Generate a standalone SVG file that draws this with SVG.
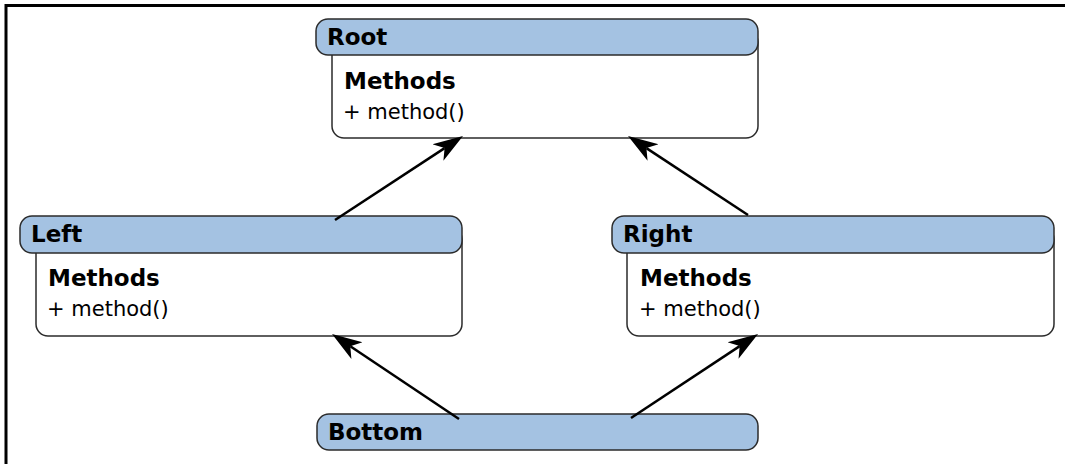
<svg xmlns="http://www.w3.org/2000/svg" width="1065" height="464" viewBox="0 0 1065 464">
<style>
.hdr{fill:#a4c2e2;stroke:#2b2b2b;stroke-width:1.5}
.body{fill:#fff;stroke:#2b2b2b;stroke-width:1.5}
.title{font-family:"DejaVu Sans",sans-serif;font-size:23px;font-weight:bold;fill:#000}
.sect{font-family:"DejaVu Sans",sans-serif;font-size:23px;font-weight:bold;fill:#000}
.item{font-family:"DejaVu Sans",sans-serif;font-size:21px;fill:#000}
.edge{stroke:#000;stroke-width:2.5;fill:none;marker-end:url(#arr)}
</style>
<defs>
<marker id="arr" markerUnits="userSpaceOnUse" viewBox="-30 -11 31 22" markerWidth="31" markerHeight="22" refX="-22" refY="0" orient="auto">
<path d="M0,0 L-30,-10 L-22,0 L-30,10 Z" fill="#000"/>
</marker>
</defs>
<rect width="1065" height="464" fill="#fff"/>
<g id="frame">
<line x1="6" y1="5.5" x2="1065" y2="5.5" stroke="#000" stroke-width="3"/>
<line x1="6" y1="4" x2="6" y2="464" stroke="#000" stroke-width="3"/>
</g>
<g id="root">
<rect class="body" x="332" y="30" width="426" height="108" rx="12"/>
<rect class="hdr" x="316" y="19" width="442" height="36" rx="12"/>
<text class="title" x="327" y="45">Root</text>
<text class="sect" x="344" y="89">Methods</text>
<text class="item" x="343" y="119">+ method()</text>
</g>
<g id="left">
<rect class="body" x="36" y="227" width="426" height="109" rx="12"/>
<rect class="hdr" x="20" y="216" width="442" height="37" rx="12"/>
<text class="title" x="31" y="242">Left</text>
<text class="sect" x="48" y="286">Methods</text>
<text class="item" x="47" y="316">+ method()</text>
</g>
<g id="right">
<rect class="body" x="627" y="227" width="427" height="109" rx="12"/>
<rect class="hdr" x="612" y="216" width="442" height="37" rx="12"/>
<text class="title" x="623" y="242">Right</text>
<text class="sect" x="640" y="286">Methods</text>
<text class="item" x="639" y="316">+ method()</text>
</g>
<g id="bottom">
<rect class="hdr" x="317" y="414" width="441" height="36" rx="12"/>
<text class="title" x="328" y="440">Bottom</text>
</g>
<g id="connectors">
<line class="edge" x1="335" y1="220" x2="444.6" y2="148.1"/>
<line class="edge" x1="748" y1="215" x2="646.4" y2="148.1"/>
<line class="edge" x1="459" y1="419" x2="350.3" y2="346.2"/>
<line class="edge" x1="631" y1="418" x2="739.7" y2="346.1"/>
</g>
</svg>
